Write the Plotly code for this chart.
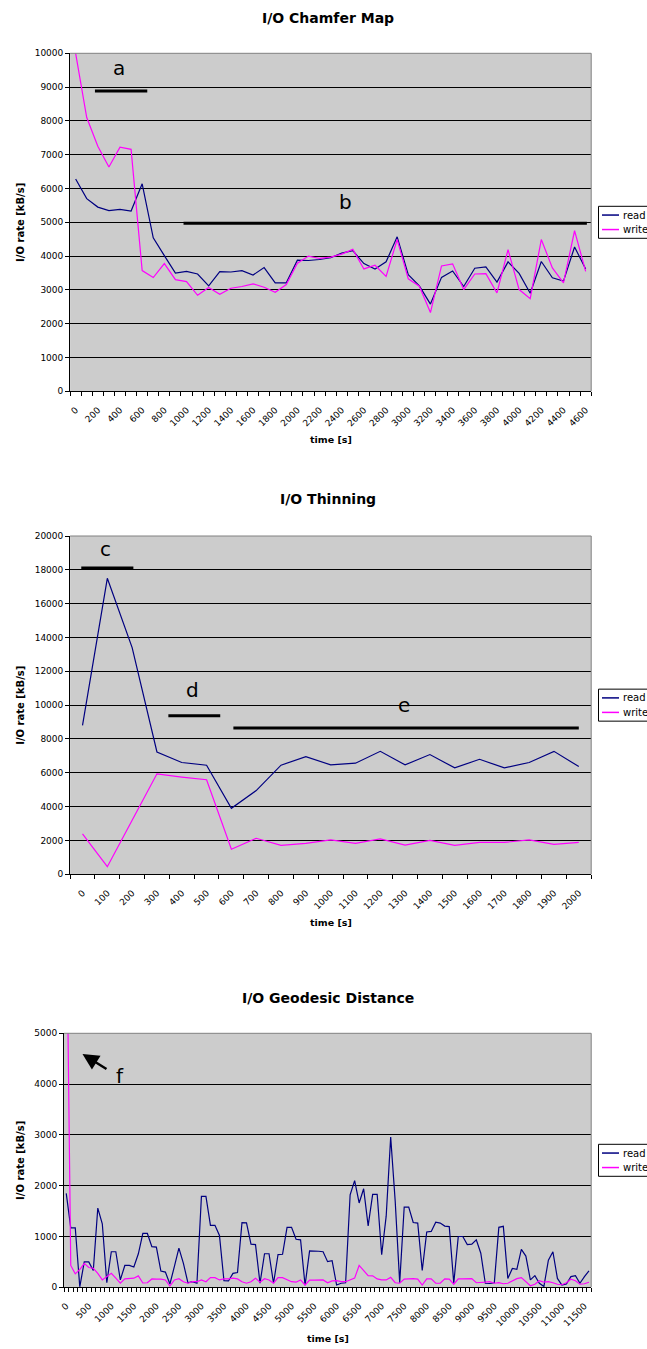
import plotly.graph_objects as go

W, H = 647, 1349

# ---------------- data ----------------
chamfer_time = list(range(0, 4700, 100))
chamfer_read = [6280, 5700, 5450, 5345, 5385, 5335, 6140, 4540, 4015, 3500,
                3550, 3470, 3120, 3540, 3530, 3570, 3440, 3660, 3210, 3210,
                3880, 3870, 3900, 3950, 4090, 4160, 3780, 3620, 3830, 4570,
                3450, 3120, 2580, 3370, 3560, 3100, 3640, 3680, 3230, 3830,
                3490, 2900, 3840, 3360, 3260, 4270, 3620]
chamfer_write = [10000, 8100, 7250, 6635, 7220, 7160, 3570, 3365, 3780, 3305,
                 3245, 2840, 3070, 2870, 3050, 3100, 3180, 3080, 2930, 3160,
                 3790, 4000, 3930, 3970, 4060, 4200, 3620, 3730, 3400, 4490,
                 3330, 3110, 2330, 3710, 3770, 3010, 3470, 3480, 2910, 4190,
                 3010, 2740, 4490, 3650, 3210, 4750, 3550]
chamfer_ticks = list(range(0, 4700, 200))

thin_time = list(range(0, 2100, 100))
thin_read = [8800, 17500, 13400, 7230, 6610, 6450, 3900, 4950, 6450, 6960,
             6470, 6570, 7270, 6470, 7080, 6290, 6800, 6290, 6610, 7270, 6370]
thin_write = [2390, 450, 3200, 5940, 5750, 5590, 1480, 2130, 1710, 1830,
              2030, 1830, 2090, 1730, 2010, 1710, 1890, 1890, 2030, 1770, 1890]
thin_ticks = list(range(0, 2100, 100))

geo_time = list(range(0, 11700, 100))
geo_read = [1850, 1170, 1170, 10, 500, 500, 330, 1560, 1250, 90,
            700, 700, 145, 430, 430, 400, 660, 1060, 1060, 800,
            790, 320, 300, 65, 410, 770, 470, 90, 110, 80,
            1790, 1790, 1220, 1220, 1020, 130, 125, 275, 290, 1275,
            1270, 850, 840, 80, 660, 660, 80, 645, 650, 1180,
            1180, 945, 935, 40, 715, 715, 710, 700, 505, 525,
            45, 80, 90, 1820, 2100, 1660, 1940, 1210, 1830, 1830,
            640, 1400, 2960, 1700, 90, 1580, 1580, 1275, 1265, 330,
            1090, 1100, 1280, 1265, 1205, 1195, 80, 1000, 1000, 840,
            850, 935, 670, 80, 75, 90, 1180, 1200, 175, 370,
            355, 745, 615, 145, 230, 80, 15, 535, 700, 175,
            45, 65, 210, 230, 80, 210, 325]
geo_write = [8000, 430, 265, 350, 470, 390, 375, 275, 145, 210,
             275, 180, 80, 165, 180, 180, 225, 85, 90, 165,
             160, 160, 145, 25, 145, 170, 110, 80, 110, 110,
             145, 110, 190, 190, 145, 165, 165, 180, 165, 110,
             80, 110, 180, 100, 170, 145, 80, 190, 190, 145,
             110, 100, 145, 45, 140, 140, 145, 145, 90, 125,
             130, 110, 110, 145, 180, 430, 340, 230, 225, 165,
             145, 145, 195, 90, 80, 160, 165, 170, 160, 45,
             165, 165, 80, 80, 165, 160, 60, 165, 165, 170,
             170, 90, 90, 100, 110, 80, 90, 70, 80, 120,
             170, 190, 110, 30, 60, 130, 100, 110, 90, 60,
             50, 90, 160, 130, 60, 70, 100]
geo_ticks = list(range(0, 12000, 500))

series_names = ["read", "write"]
series_colors = ["#000080", "#FF00FF"]

FONT = "DejaVu Sans"
PLOT_BG = "#CCCCCC"


def fx(p):
    return p / W


def fy(p):
    return 1 - p / H


panels = [
    dict(title="I/O Chamfer Map", time=chamfer_time, series=[chamfer_read, chamfer_write],
         ticks=chamfer_ticks, ymax=10000, ydtick=1000,
         left=70.1, right=591.2, top=53.3, bottom=391.3, title_y=17.5, xtitle_y=439.5),
    dict(title="I/O Thinning", time=thin_time, series=[thin_read, thin_write],
         ticks=thin_ticks, ymax=20000, ydtick=2000,
         left=70.1, right=591.2, top=536.0, bottom=874.3, title_y=499.0, xtitle_y=922.7),
    dict(title="I/O Geodesic Distance", time=geo_time, series=[geo_read, geo_write],
         ticks=geo_ticks, ymax=5000, ydtick=1000,
         left=64.0, right=591.2, top=1033.3, bottom=1287.3, title_y=998.3, xtitle_y=1338.0),
]

fig = go.Figure()
annotations = []
shapes = []

for k, p in enumerate(panels, start=1):
    sfx = "" if k == 1 else str(k)
    xa, ya = "x" + sfx, "y" + sfx
    t = p["time"]
    step = t[1] - t[0]
    bounds = [t[0] - step / 2 + i * step for i in range(len(t) + 1)]

    for name, color, vals in zip(series_names, series_colors, p["series"]):
        fig.add_trace(go.Scatter(x=t, y=vals, name=name, mode="lines",
                                 line=dict(color=color, width=1.2),
                                 xaxis=xa, yaxis=ya, showlegend=False))

    fig.layout["xaxis" + sfx] = dict(
        domain=[fx(p["left"]), fx(p["right"])], anchor=ya,
        range=[bounds[0], bounds[-1]],
        tickmode="array", tickvals=p["ticks"], ticktext=[str(v) for v in p["ticks"]],
        tickangle=-45, ticks="outside", ticklen=9, tickcolor="rgba(0,0,0,0)",
        tickfont=dict(family=FONT, size=9, color="black"),
        showgrid=False, zeroline=False, showline=True, linecolor="black", linewidth=1,
        minor=dict(tickmode="array", tickvals=bounds, ticks="outside", ticklen=4,
                   tickcolor="black", showgrid=False),
        fixedrange=True)
    fig.layout["yaxis" + sfx] = dict(
        domain=[fy(p["bottom"]), fy(p["top"])], anchor=xa,
        range=[0, p["ymax"]], tick0=0, dtick=p["ydtick"], tickformat="d",
        ticks="outside", ticklen=4, tickcolor="black",
        tickfont=dict(family=FONT, size=9, color="black"),
        showgrid=True, gridcolor="black", gridwidth=1, zeroline=False,
        showline=True, linecolor="black", linewidth=1, fixedrange=True)

    # gray frame on the top and right sides of the plot area
    shapes.append(dict(type="line", xref=xa + " domain", yref=ya + " domain",
                       x0=0, x1=1, y0=1, y1=1, line=dict(color="#808080", width=1)))
    shapes.append(dict(type="line", xref=xa + " domain", yref=ya + " domain",
                       x0=1, x1=1, y0=0, y1=1, line=dict(color="#808080", width=1)))

    xc = (p["left"] + p["right"]) / 2
    yc = (p["top"] + p["bottom"]) / 2
    annotations.append(dict(text=p["title"], x=fx(328.5), y=fy(p["title_y"]),
                            xref="paper", yref="paper", showarrow=False,
                            xanchor="center", yanchor="middle",
                            font=dict(family=FONT, size=14, color="black", weight="bold")))
    annotations.append(dict(text="time [s]", x=fx(xc), y=fy(p["xtitle_y"]),
                            xref="paper", yref="paper", showarrow=False,
                            xanchor="center", yanchor="middle",
                            font=dict(family=FONT, size=9.5, color="black", weight="bold")))
    annotations.append(dict(text="I/O rate [kB/s]", x=fx(20.6), y=fy(yc),
                            xref="paper", yref="paper", showarrow=False, textangle=-90,
                            xanchor="center", yanchor="middle",
                            font=dict(family=FONT, size=10, color="black", weight="bold")))

    # legend box at the right edge
    shapes.append(dict(type="rect", xref="paper", yref="paper",
                       x0=fx(598.5), x1=fx(700), y0=fy(yc + 16), y1=fy(yc - 16),
                       line=dict(color="black", width=1), fillcolor="white"))
    for j, (name, color) in enumerate(zip(series_names, series_colors)):
        ly = yc - 7.25 + j * 14.5
        shapes.append(dict(type="line", xref="paper", yref="paper",
                           x0=fx(602), x1=fx(619), y0=fy(ly), y1=fy(ly),
                           line=dict(color=color, width=1.5)))
        annotations.append(dict(text=name, x=fx(621), y=fy(ly), xref="paper", yref="paper",
                                showarrow=False, xanchor="left", yanchor="middle",
                                font=dict(family=FONT, size=10, color="black")))

# phase markers
bar = dict(color="black", width=3)
shapes += [
    dict(type="line", xref="x", yref="y", x0=174, x1=646, y0=8885, y1=8885, line=bar),
    dict(type="line", xref="x", yref="y", x0=973, x1=4611, y0=4970, y1=4970, line=bar),
    dict(type="line", xref="x2", yref="y2", x0=-5, x1=205, y0=18108, y1=18108, line=bar),
    dict(type="line", xref="x2", yref="y2", x0=346, x1=555, y0=9376, y1=9376, line=bar),
    dict(type="line", xref="x2", yref="y2", x0=608, x1=2000, y0=8649, y1=8649, line=bar),
]
letter_font = dict(family=FONT, size=20, color="black")
for txt, xr, yr, xv, yv in [("a", "x", "y", 389, 9560),
                            ("b", "x", "y", 2435, 5609),
                            ("c", "x2", "y2", 93, 19220),
                            ("d", "x2", "y2", 442, 10896),
                            ("e", "x2", "y2", 1297, 10000),
                            ("f", "x3", "y3", 1184, 4150)]:
    annotations.append(dict(text=txt, x=xv, y=yv, xref=xr, yref=yr, showarrow=False,
                            xanchor="center", yanchor="middle", font=letter_font))

annotations.append(dict(text="", x=360, y=4593, xref="x3", yref="y3",
                        ax=926, ay=4278, axref="x3", ayref="y3",
                        showarrow=True, arrowhead=2, arrowsize=1.3, arrowwidth=2.5,
                        arrowcolor="black"))

fig.update_layout(
    width=W, height=H,
    margin=dict(l=0, r=0, t=0, b=0, pad=0, autoexpand=False),
    paper_bgcolor="white", plot_bgcolor=PLOT_BG,
    showlegend=False,
    annotations=annotations, shapes=shapes,
    font=dict(family=FONT, color="black"),
)

fig.write_html("out.html")
